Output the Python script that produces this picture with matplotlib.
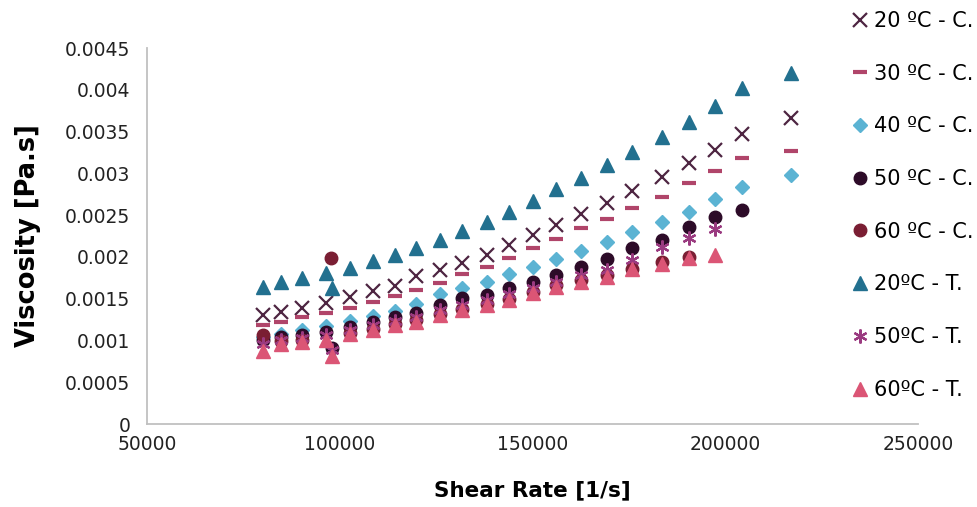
import matplotlib.pyplot as plt

plt.rcParams['font.family'] = ['DejaVu Sans']

# Shear rate positions [1/s]
shear = [80000, 84700, 90200, 96400, 102600, 108500, 114200, 119900,
         125900, 131600, 138100, 143800, 150000, 156200, 162700, 169400,
         175900, 183700, 190700, 197400, 204400, 217100]

# Coaxial-cylinder series (C.)
visc_20c = [0.00130, 0.00134, 0.00139, 0.00145, 0.00152, 0.00159, 0.00165,
            0.00177, 0.00184, 0.00193, 0.00202, 0.00214, 0.00226, 0.00238,
            0.00251, 0.00264, 0.00279, 0.00296, 0.00312, 0.00328, 0.00347,
            0.00366]
visc_30c = [0.00118, 0.00122, 0.00128, 0.00133, 0.00139, 0.00146, 0.00153,
            0.00160, 0.00169, 0.00180, 0.00188, 0.00199, 0.00211, 0.00221,
            0.00234, 0.00245, 0.00258, 0.00272, 0.00288, 0.00303, 0.00318,
            0.00327]
visc_40c = [0.00104, 0.00108, 0.00112, 0.00117, 0.00123, 0.00129, 0.00135,
            0.00144, 0.00155, 0.00163, 0.00170, 0.00179, 0.00188, 0.00197,
            0.00207, 0.00218, 0.00230, 0.00242, 0.00254, 0.00269, 0.00284,
            0.00298]
shear_50c = [80000, 84700, 90200, 96400, 97900, 102600, 108500, 114200,
             119900, 125900, 131600, 138100, 143800, 150000, 156200, 162700,
             169400, 175900, 183700, 190700, 197400, 204400]
visc_50c = [0.00100, 0.00104, 0.00107, 0.00110, 0.00091, 0.00116, 0.00122,
            0.00128, 0.00133, 0.00142, 0.00151, 0.00154, 0.00163, 0.00170,
            0.00178, 0.00188, 0.00198, 0.00211, 0.00220, 0.00236, 0.00248,
            0.00256]
shear_60c = [80000, 84700, 90200, 97600, 102600, 108500, 114200, 119900,
             125900, 131600, 138100, 143800, 150000, 156200, 162700, 169400,
             175900, 183700, 190700]
visc_60c = [0.00107, 0.00099, 0.00100, 0.00199, 0.00109, 0.00114, 0.00120,
            0.00125, 0.00132, 0.00138, 0.00144, 0.00150, 0.00158, 0.00166,
            0.00172, 0.00178, 0.00186, 0.00194, 0.00200]

# Tube series (T.)
shear_20t = [80000, 84700, 90200, 96400, 97900, 102600, 108500, 114200,
             119900, 125900, 131600, 138100, 143800, 150000, 156200, 162700,
             169400, 175900, 183700, 190700, 197400, 204400, 217100]
visc_20t = [0.00164, 0.00170, 0.00175, 0.00181, 0.00163, 0.00187, 0.00195,
            0.00202, 0.00211, 0.00220, 0.00231, 0.00242, 0.00254, 0.00267,
            0.00281, 0.00295, 0.00310, 0.00326, 0.00343, 0.00361, 0.00381,
            0.00402, 0.00420]
shear_t = [80000, 84700, 90200, 96400, 97900, 102600, 108500, 114200,
           119900, 125900, 131600, 138100, 143800, 150000, 156200, 162700,
           169400, 175900, 183700, 190700, 197400]
visc_50t = [0.00096, 0.00100, 0.00103, 0.00106, 0.00088, 0.00112, 0.00118,
            0.00123, 0.00128, 0.00136, 0.00143, 0.00148, 0.00155, 0.00163,
            0.00170, 0.00178, 0.00184, 0.00196, 0.00212, 0.00223, 0.00233]
visc_60t = [0.00087, 0.00096, 0.00098, 0.00101, 0.00081, 0.00108, 0.00112,
            0.00118, 0.00122, 0.00130, 0.00136, 0.00142, 0.00148, 0.00157,
            0.00164, 0.00170, 0.00176, 0.00185, 0.00192, 0.00199, 0.00202]

yticks = [0, 0.0005, 0.001, 0.0015, 0.002, 0.0025, 0.003, 0.0035, 0.004, 0.0045]
ytick_labels = ['0', '0.0005', '0.001', '0.0015', '0.002', '0.0025', '0.003',
                '0.0035', '0.004', '0.0045']
xticks = [50000, 100000, 150000, 200000, 250000]

fig = plt.figure(figsize=(9.78, 5.07), dpi=100)
ax = fig.add_axes([0.1503, 0.1637, 0.7884, 0.7416])

ax.plot(shear, visc_20c, ls='none', marker='x', ms=10, mew=1.6,
        color='#4e2542', label='20 ºC - C.')
ax.plot(shear, visc_30c, ls='none', marker='_', ms=10, mew=3,
        color='#b0456a', label='30 ºC - C.')
ax.plot(shear, visc_40c, ls='none', marker='D', ms=7.5,
        color='#5bb3d3', label='40 ºC - C.')
ax.plot(shear_50c, visc_50c, ls='none', marker='o', ms=9,
        color='#2d0b28', label='50 ºC - C.')
ax.plot(shear_60c, visc_60c, ls='none', marker='o', ms=9,
        color='#7a1e33', label='60 ºC - C.')
ax.plot(shear_20t, visc_20t, ls='none', marker='^', ms=10.5,
        color='#22708f', label='20ºC - T.')
ax.plot(shear_t, visc_50t, ls='none', marker=(6, 2, 0), ms=10, mew=1.6,
        color='#9a3a80', label='50ºC - T.')
ax.plot(shear_t, visc_60t, ls='none', marker='^', ms=10.5,
        color='#db5575', label='60ºC - T.')

ax.set_xlim(50000, 250000)
ax.set_ylim(0, 0.0045)
ax.set_xticks(xticks)
ax.set_xticklabels([str(v) for v in xticks])
ax.set_yticks(yticks)
ax.set_yticklabels(ytick_labels)
ax.tick_params(length=0, labelsize=13.5, colors='#222222')
ax.tick_params(axis='y', pad=12)
ax.tick_params(axis='x', pad=8)

for s in ['top', 'right']:
    ax.spines[s].set_visible(False)
for s in ['left', 'bottom']:
    ax.spines[s].set_color('#c0c0c0')
    ax.spines[s].set_linewidth(1.3)

ax.set_xlabel('Shear Rate [1/s]', fontsize=15.5, fontweight='bold', labelpad=19)
ax.set_ylabel('Viscosity [Pa.s]', fontsize=18.5, fontweight='bold', labelpad=17)

fig.legend(loc='upper left', bbox_to_anchor=(0.862, 0.995), frameon=False,
           fontsize=15, labelspacing=1.57, handlelength=0.8, handletextpad=0.3,
           borderaxespad=0)

fig.savefig('out.png', dpi=100)
